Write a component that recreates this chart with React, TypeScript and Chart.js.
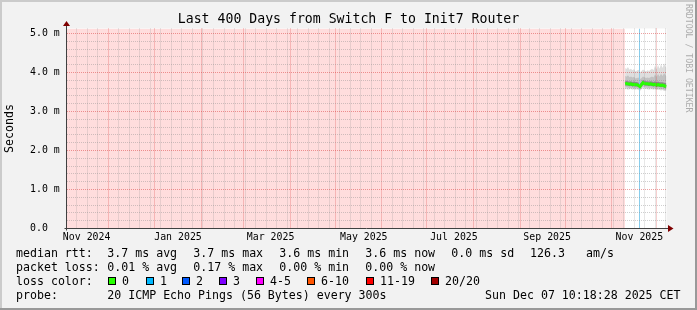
import React, { useEffect, useRef } from 'react';
import { Chart, registerables } from 'chart.js';

Chart.register(...registerables);

// ---------- time axis: days since 2024-11-01 00:00 CET ----------
const X_START = 2.2;
const X_END = 401.43;
const FIRST_WEEK_DAY = 9; // Sunday 2024-11-10
const MONTH_START_DAYS = [30, 61, 92, 120, 151, 181, 212, 242, 273, 304, 334, 365, 395];
const X_LABELS = ['Nov 2024', 'Jan 2025', 'Mar 2025', 'May 2025', 'Jul 2025', 'Sep 2025', 'Nov 2025'];
const X_LABEL_DAYS = [15.6, 76.4, 138.0, 200.0, 260.0, 322.0, 383.4];

// ---------- value axis (milliseconds) ----------
const Y_MAX = 5.13;
const Y_LABELS = ['0.0', '1.0 m', '2.0 m', '3.0 m', '4.0 m', '5.0 m'];
const Y_MINOR_PER_MAJOR = 5;

// ---------- data ----------
const UNKNOWN_FROM = 2.2;
const UNKNOWN_TO = 373.9;
const MARKER_DAY = 383.46;

const smokeDays = [373.9, 374.8, 375.8, 376.8, 377.8, 378.8, 379.8, 380.8, 381.8, 382.8, 383.8, 384.8, 385.8, 386.8, 387.8, 388.8, 389.8, 390.8, 391.8, 392.8, 393.8, 394.8, 395.8, 396.8, 397.8, 398.8, 399.8, 400.8, 401.43];
const medianRtt = [3.71, 3.72, 3.71, 3.70, 3.71, 3.69, 3.70, 3.69, 3.69, 3.67, 3.64, 3.69, 3.74, 3.72, 3.71, 3.71, 3.70, 3.71, 3.70, 3.69, 3.70, 3.68, 3.69, 3.68, 3.67, 3.68, 3.66, 3.65, 3.64];
const pingMax = [4.12, 4.09, 4.14, 4.07, 4.10, 4.06, 4.09, 4.03, 4.05, 4.07, 4.01, 4.04, 4.08, 4.05, 4.03, 4.06, 4.04, 4.07, 4.10, 4.06, 4.18, 4.08, 4.20, 4.10, 4.22, 4.12, 4.24, 4.15, 4.12];
const pingUpper = [3.92, 3.89, 3.93, 3.88, 3.90, 3.87, 3.89, 3.85, 3.86, 3.87, 3.83, 3.86, 3.90, 3.88, 3.86, 3.87, 3.86, 3.88, 3.90, 3.87, 3.95, 3.89, 3.96, 3.90, 3.97, 3.91, 3.98, 3.93, 3.90];
const coreUpper = [3.78, 3.79, 3.78, 3.77, 3.78, 3.76, 3.77, 3.76, 3.76, 3.74, 3.72, 3.76, 3.81, 3.79, 3.78, 3.78, 3.77, 3.78, 3.77, 3.76, 3.78, 3.75, 3.77, 3.75, 3.75, 3.75, 3.74, 3.73, 3.72];
const coreLower = [3.66, 3.67, 3.66, 3.65, 3.66, 3.64, 3.65, 3.64, 3.64, 3.62, 3.59, 3.64, 3.69, 3.67, 3.66, 3.66, 3.65, 3.66, 3.65, 3.64, 3.65, 3.63, 3.64, 3.63, 3.62, 3.63, 3.61, 3.60, 3.59];
const pingLower = [3.61, 3.62, 3.61, 3.60, 3.61, 3.60, 3.60, 3.59, 3.60, 3.58, 3.56, 3.60, 3.64, 3.62, 3.61, 3.61, 3.60, 3.61, 3.60, 3.59, 3.60, 3.58, 3.59, 3.58, 3.57, 3.58, 3.56, 3.56, 3.55];
const pingMin = [3.57, 3.58, 3.56, 3.57, 3.58, 3.56, 3.57, 3.56, 3.57, 3.55, 3.53, 3.57, 3.60, 3.59, 3.58, 3.57, 3.56, 3.57, 3.57, 3.56, 3.57, 3.55, 3.56, 3.55, 3.54, 3.55, 3.53, 3.53, 3.52];

// ---------- texts ----------
const TITLE = 'Last 400 Days from Switch F to Init7 Router';
const Y_TITLE = 'Seconds';
const WATERMARK = 'RRDTOOL / TOBI OETIKER';
const RTT_STATS = ['3.7 ms avg', '3.7 ms max', '3.6 ms min', '3.6 ms now', '0.0 ms sd'];
const RTT_AMS = '126.3';
const LOSS_STATS = ['0.01 % avg', '0.17 % max', '0.00 % min', '0.00 % now'];
const LOSS_COLOR_LABELS = ['0', '1', '2', '3', '4-5', '6-10', '11-19', '20/20'];
const LOSS_COLORS = ['#26ff00', '#00b8ff', '#0059ff', '#7e00ff', '#ff00ff', '#ff5500', '#ff0000', '#a10000'];
const PROBE_TEXT = '20 ICMP Echo Pings (56 Bytes) every 300s';
const TIMESTAMP = 'Sun Dec 07 10:18:28 2025 CET';

const FAMILY = '"DejaVu Sans Mono", monospace';
const mono = (s: number) => `${s}px ${FAMILY}`;
const MINOR_GRID = 'rgba(140,140,140,0.42)';
const MAJOR_GRID = 'rgba(215,45,45,0.45)';

const gridColor = (c: any) => {
  const k = c.tick && c.tick.kind;
  if (k === 'major') return MAJOR_GRID;
  if (k === 'minor') return MINOR_GRID;
  return 'rgba(0,0,0,0)';
};

const buildXTicks = () => {
  const t: any[] = [];
  for (let d = FIRST_WEEK_DAY; d <= X_END; d += 7) {
    if (!MONTH_START_DAYS.includes(d)) t.push({ value: d, kind: 'minor', text: '' });
  }
  MONTH_START_DAYS.forEach((d) => t.push({ value: d, kind: 'major', text: '' }));
  X_LABEL_DAYS.forEach((d, i) => t.push({ value: d, kind: 'label', text: X_LABELS[i] }));
  return t.sort((p, q) => p.value - q.value);
};

const buildYTicks = () => {
  const t: any[] = [];
  for (let i = 0; i / Y_MINOR_PER_MAJOR <= Y_MAX; i++) {
    const major = i % Y_MINOR_PER_MAJOR === 0;
    t.push({ value: i / Y_MINOR_PER_MAJOR, kind: major ? 'major' : 'minor', text: major ? Y_LABELS[i / Y_MINOR_PER_MAJOR] : '' });
  }
  return t;
};

const series = (ys: number[]) => smokeDays.map((d, i) => ({ x: d, y: ys[i] }));

const framePlugin = {
  id: 'rrdFrame',
  beforeDraw(chart: any) {
    const { ctx, chartArea: a, width, height } = chart;
    ctx.save();
    ctx.fillStyle = '#f2f2f2';
    ctx.fillRect(0, 0, width, height);
    ctx.fillStyle = '#cbcbcb';
    ctx.fillRect(0, 0, width, 2);
    ctx.fillRect(0, 0, 2, height);
    ctx.fillStyle = '#999999';
    ctx.fillRect(0, height - 2, width, 2);
    ctx.fillRect(width - 2, 0, 2, height);
    ctx.fillStyle = '#ffffff';
    ctx.fillRect(a.left, a.top, a.right - a.left, a.bottom - a.top);
    ctx.restore();
  },
  afterDraw(chart: any) {
    const { ctx, chartArea: a, width } = chart;
    ctx.save();
    // axes
    const ax = Math.floor(a.left) + 0.5;
    const ay = Math.floor(a.bottom) + 0.5;
    ctx.strokeStyle = '#404040';
    ctx.lineWidth = 1;
    ctx.beginPath();
    ctx.moveTo(a.left - 2, ay);
    ctx.lineTo(a.right + 2, ay);
    ctx.stroke();
    ctx.beginPath();
    ctx.moveTo(ax, a.bottom + 2);
    ctx.lineTo(ax, a.top - 3);
    ctx.stroke();
    ctx.fillStyle = '#7f0000';
    ctx.beginPath();
    ctx.moveTo(a.right + 1.5, ay - 3.5);
    ctx.lineTo(a.right + 7, ay);
    ctx.lineTo(a.right + 1.5, ay + 3.5);
    ctx.closePath();
    ctx.fill();
    ctx.beginPath();
    ctx.moveTo(ax - 3.5, a.top - 2.5);
    ctx.lineTo(ax, a.top - 7.5);
    ctx.lineTo(ax + 3.5, a.top - 2.5);
    ctx.closePath();
    ctx.fill();

    // title
    ctx.fillStyle = '#000';
    ctx.textBaseline = 'middle';
    ctx.textAlign = 'center';
    ctx.font = mono(13.2);
    ctx.fillText(TITLE, width / 2, 19.5);

    // y title
    ctx.save();
    ctx.translate(9.5, (a.top + a.bottom) / 2);
    ctx.rotate(-Math.PI / 2);
    ctx.font = mono(11.6);
    ctx.fillText(Y_TITLE, 0, 0);
    ctx.restore();

    // watermark
    ctx.save();
    ctx.translate(688.5, 4);
    ctx.rotate(Math.PI / 2);
    ctx.font = mono(8.2);
    ctx.textAlign = 'left';
    ctx.fillStyle = '#acacac';
    ctx.fillText(WATERMARK, 0, 0);
    ctx.restore();

    // legend
    ctx.font = mono(11.6);
    ctx.textAlign = 'left';
    ctx.fillStyle = '#000';
    const L1 = 254, L2 = 268, L3 = 282, L4 = 296;
    const COL0 = 16, COL1 = 107.3, STEP = 86;
    ctx.fillText('median rtt:', COL0, L1);
    RTT_STATS.forEach((s, i) => ctx.fillText(s, COL1 + STEP * i, L1));
    ctx.fillText(RTT_AMS, 530, L1);
    ctx.fillText('am/s', 586, L1);
    ctx.fillText('packet loss:', COL0, L2);
    LOSS_STATS.forEach((s, i) => ctx.fillText(s, COL1 + STEP * i, L2));
    ctx.fillText('loss color:', COL0, L3);
    const boxX = [108, 146, 182, 219, 256, 307, 366, 431];
    LOSS_COLOR_LABELS.forEach((lab, i) => {
      const bx = boxX[i];
      ctx.fillStyle = LOSS_COLORS[i];
      ctx.fillRect(bx, 277, 8, 8);
      ctx.strokeStyle = '#000';
      ctx.strokeRect(bx + 0.5, 277.5, 7, 7);
      ctx.fillStyle = '#000';
      ctx.fillText(lab, bx + 14, L3);
    });
    ctx.fillText('probe:', COL0, L4);
    ctx.fillText(PROBE_TEXT, COL1, L4);
    ctx.textAlign = 'right';
    ctx.fillText(TIMESTAMP, 680.5, L4);
    ctx.restore();
  },
};

export default function App() {
  const ref = useRef<HTMLCanvasElement>(null);
  useEffect(() => {
    const canvas = ref.current;
    if (!canvas) return;
    const flat = { pointRadius: 0, pointHoverRadius: 0, tension: 0, borderWidth: 0 };
    const chart = new Chart(canvas, {
      type: 'line',
      data: {
        datasets: [
          {
            label: 'unknown',
            data: [{ x: UNKNOWN_FROM, y: Y_MAX }, { x: UNKNOWN_TO, y: Y_MAX }],
            fill: 'origin',
            backgroundColor: '#ffdddd',
            borderColor: 'rgba(0,0,0,0)',
            order: 9,
            ...flat,
          },
          { label: 'min', data: series(pingMin), fill: false, borderColor: 'rgba(0,0,0,0)', order: 8, ...flat },
          { label: 'max', data: series(pingMax), fill: '-1', backgroundColor: '#dedede', borderColor: 'rgba(0,0,0,0)', order: 8, ...flat },
          { label: 'lower', data: series(pingLower), fill: false, borderColor: 'rgba(0,0,0,0)', order: 7, ...flat },
          { label: 'upper', data: series(pingUpper), fill: '-1', backgroundColor: '#c2c2c2', borderColor: 'rgba(0,0,0,0)', order: 7, ...flat },
          { label: 'coreLow', data: series(coreLower), fill: false, borderColor: 'rgba(0,0,0,0)', order: 6, ...flat },
          { label: 'coreHigh', data: series(coreUpper), fill: '-1', backgroundColor: '#8a8a8a', borderColor: 'rgba(0,0,0,0)', order: 6, ...flat },
          {
            label: 'marker',
            data: [{ x: MARKER_DAY, y: 0 }, { x: MARKER_DAY, y: Y_MAX }],
            fill: false,
            borderColor: '#87cdec',
            order: 3,
            ...flat,
            borderWidth: 1,
          },
          {
            label: 'median rtt',
            data: series(medianRtt),
            fill: false,
            borderColor: '#26ff00',
            order: 1,
            ...flat,
            borderWidth: 3,
          },
        ],
      },
      options: {
        responsive: false,
        maintainAspectRatio: false,
        animation: false,
        devicePixelRatio: 1,
        events: [],
        layout: { padding: { left: 30, right: 30.5, top: 28.5, bottom: 61.5 } },
        plugins: { legend: { display: false }, tooltip: { enabled: false }, title: { display: false } },
        scales: {
          x: {
            type: 'linear',
            min: X_START,
            max: X_END,
            bounds: 'data',
            afterBuildTicks: (s: any) => { s.ticks = buildXTicks(); },
            afterFit: (s: any) => { s.height = 20; },
            grid: { color: gridColor, lineWidth: 1, drawTicks: false, z: 1 },
            border: { display: false, dash: [1, 1] },
            ticks: {
              autoSkip: false,
              maxRotation: 0,
              minRotation: 0,
              padding: 2.6,
              color: '#000',
              font: { family: FAMILY, size: 9.9 },
              callback: (_v: any, i: number, t: any[]) => (t[i] && t[i].text) || '',
            },
          },
          y: {
            type: 'linear',
            min: 0,
            max: Y_MAX,
            bounds: 'data',
            afterBuildTicks: (s: any) => { s.ticks = buildYTicks(); },
            afterFit: (s: any) => { s.width = 36.5; },
            grid: { color: gridColor, lineWidth: 1, drawTicks: false, z: 1 },
            border: { display: false, dash: [1, 1] },
            ticks: {
              autoSkip: false,
              crossAlign: 'far',
              padding: 0,
              color: '#000',
              font: { family: FAMILY, size: 9.9 },
              callback: (_v: any, i: number, t: any[]) => (t[i] && t[i].text) || '',
            },
          },
        },
      },
      plugins: [framePlugin],
    } as any);
    return () => chart.destroy();
  }, []);
  return (
    <canvas
      ref={ref}
      width={697}
      height={310}
      style={{ position: 'absolute', left: 0, top: 0, width: 697, height: 310, display: 'block' }}
    />
  );
}
